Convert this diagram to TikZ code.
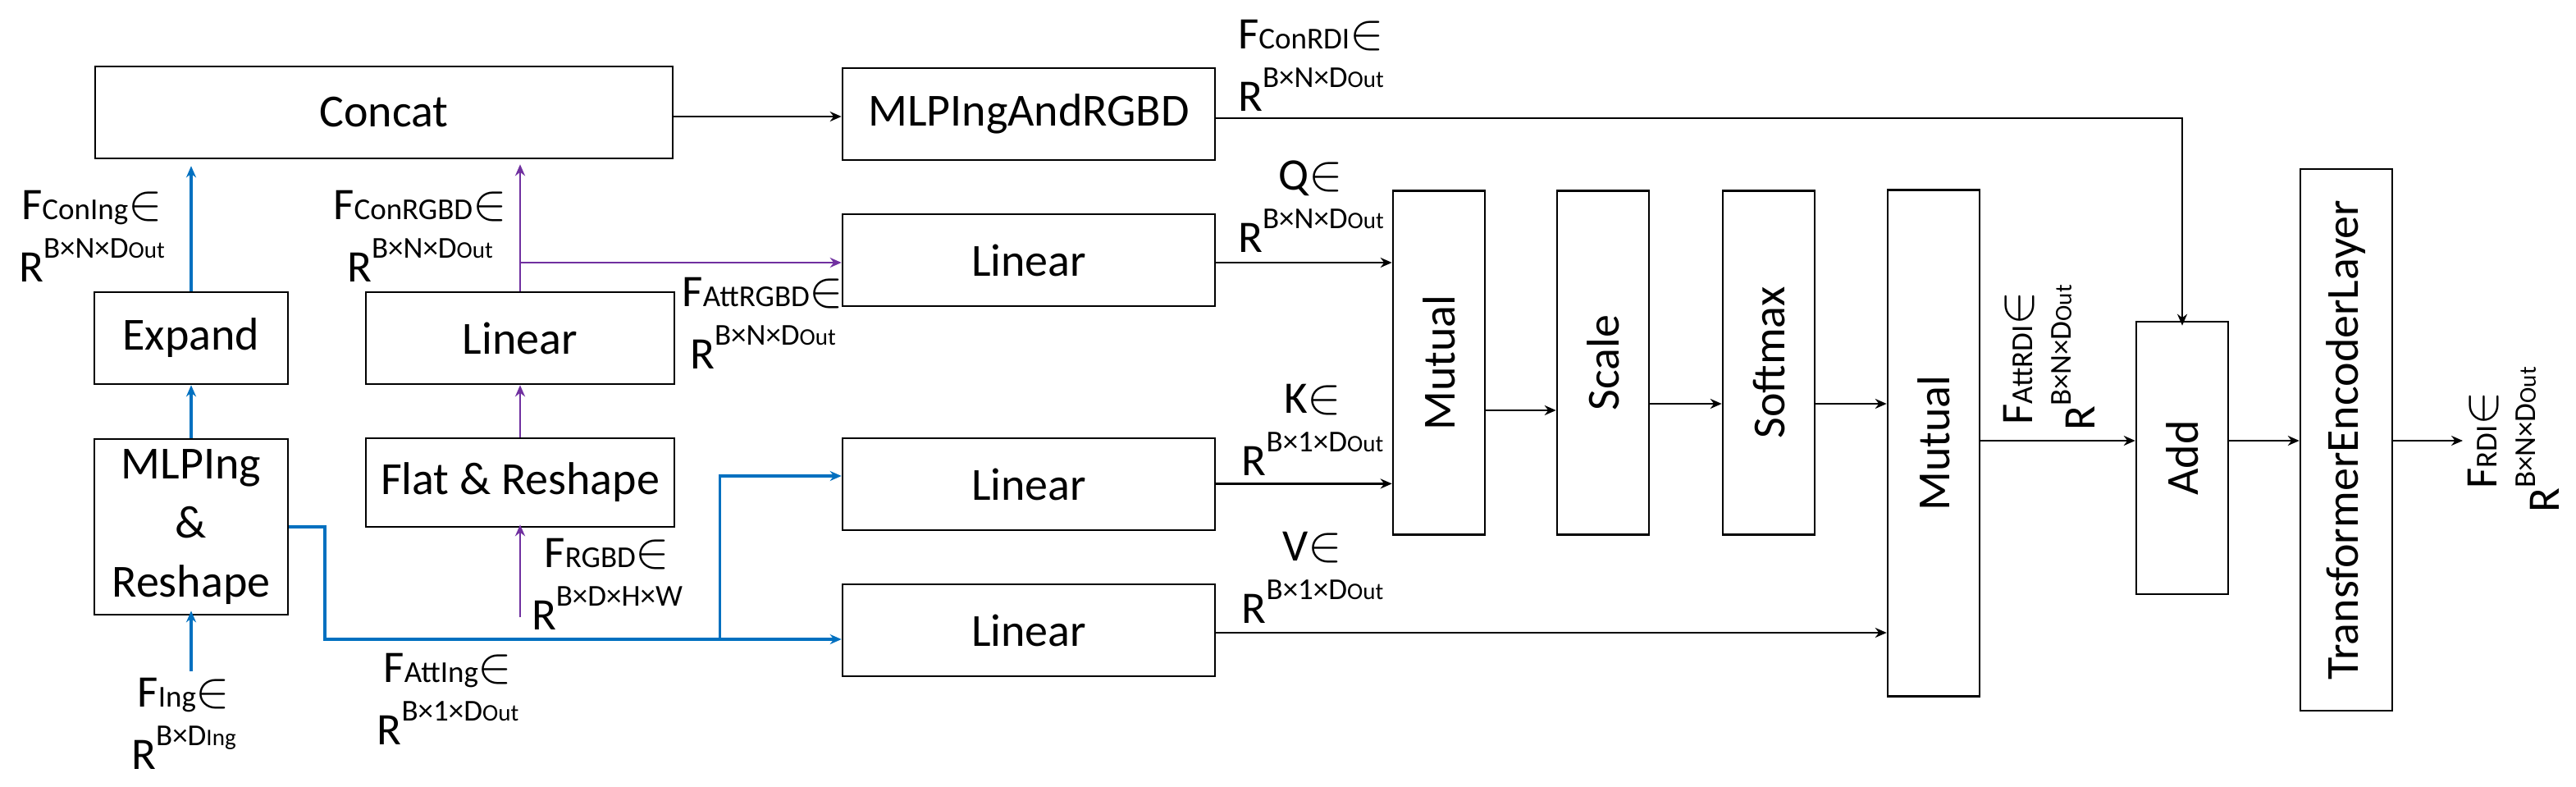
\documentclass[tikz,border=0pt]{standalone}
\usepackage{fontspec}
\setmainfont{Carlito}
\usetikzlibrary{arrows.meta,calc}
\definecolor{myblue}{RGB}{0,112,192}
\definecolor{mypurple}{RGB}{112,48,160}
\newcommand\smt[1]{{\fontsize{18.5}{18.5}\selectfont #1}}
\newcommand\tnt[1]{{\fontsize{14.5}{14.5}\selectfont #1}}
\newcommand\upt[1]{\raisebox{1.1ex}{\smt{#1}}}
\newcommand\inn{\scalebox{1.25}{\ensuremath{\in}}}
\begin{document}
\begin{tikzpicture}[x=1pt,y=-1pt,
  box/.style={draw,line width=1.3pt,inner sep=0pt,font=\fontsize{28}{30}\selectfont,align=center},
  lab/.style={font=\fontsize{27.5}{38}\selectfont,align=center,inner sep=0pt},
  arr/.style={line width=1.2pt,-{Stealth[length=7pt,width=6pt]}},
  barr/.style={arr,myblue,line width=1.6pt},
  parr/.style={arr,mypurple,line width=1.4pt},
  bl/.style={myblue,line width=1.6pt},
  pl/.style={mypurple,line width=1.4pt}]
\useasboundingbox (0,0) rectangle (1570,479);
\fill[white] (0,0) rectangle (1570,479);
% boxes
\node[box,minimum width=352pt,minimum height=56pt] (concat) at (234,68.5) {Concat};
\node[box,minimum width=118pt,minimum height=56pt] (expand) at (116.5,206) {Expand};
\node[box,minimum width=118pt,minimum height=107pt,font=\fontsize{28}{36}\selectfont] (mlp) at (116.5,321) {MLPIng\\\&\\Reshape};
\node[box,minimum width=188pt,minimum height=56pt] (plin) at (317,206) {Linear};
\node[box,minimum width=188pt,minimum height=54pt] (flat) at (317,294) {Flat \& Reshape};
\node[box,minimum width=227pt,minimum height=56pt] (mrgbd) at (627,69.5) {MLPIngAndRGBD};
\node[box,minimum width=227pt,minimum height=56pt] (lq) at (627,158.5) {Linear};
\node[box,minimum width=227pt,minimum height=56pt] (lk) at (627,295) {Linear};
\node[box,minimum width=227pt,minimum height=56pt] (lv) at (627,384) {Linear};
\node[box,minimum width=56pt,minimum height=209.5pt] (mut1) at (877,221) {\rotatebox{90}{Mutual}};
\node[box,minimum width=56pt,minimum height=209.5pt] (scale) at (977,221) {\rotatebox{90}{Scale}};
\node[box,minimum width=56pt,minimum height=209.5pt] (soft) at (1078,221) {\rotatebox{90}{Softmax}};
\node[box,minimum width=56pt,minimum height=308.5pt] (mut2) at (1178.5,270) {\rotatebox{90}{Mutual}};
\node[box,minimum width=56pt,minimum height=166pt] (add) at (1330,279) {\rotatebox{90}{Add}};
\node[box,minimum width=56pt,minimum height=330pt] (tel) at (1430,268) {\rotatebox{90}{TransformerEncoderLayer}};
% labels
\node[lab] (lconing) at (56,144) {F\smt{ConIng}\inn\\R\upt{B×N×D\tnt{Out}}};
\node[lab] (lconrgbd) at (256,144) {F\smt{ConRGBD}\inn\\R\upt{B×N×D\tnt{Out}}};
\node[lab] (lattrgbd) at (465,197) {F\smt{AttRGBD}\inn\\R\upt{B×N×D\tnt{Out}}};
\node[lab] (lrgbd) at (370,356) {F\smt{RGBD}\inn\\R\upt{B×D×H×W}};
\node[lab] (lattin) at (273,426) {F\smt{AttIng}\inn\\R\upt{B×1×D\tnt{Out}}};
\node[lab] (ling) at (112,441) {F\smt{Ing}\inn\\R\upt{B×D\tnt{Ing}}};
\node[lab] (lconrdi) at (799,40) {F\smt{ConRDI}\inn\\R\upt{B×N×D\tnt{Out}}};
\node[lab] (lq1) at (799,126) {Q\inn\\R\upt{B×N×D\tnt{Out}}};
\node[lab] (lk1) at (800,262) {K\inn\\R\upt{B×1×D\tnt{Out}}};
\node[lab] (lv1) at (800,352) {V\inn\\R\upt{B×1×D\tnt{Out}}};
\node[lab,rotate=90] (lattrdi) at (1249,218) {F\smt{AttRDI}\inn\\R\upt{B×N×D\tnt{Out}}};
\node[lab,rotate=90] (lrdi) at (1532,268) {F\smt{RDI}\inn\\R\upt{B×N×D\tnt{Out}}};
% coordinates
\coordinate (fing) at (116.5,409);
\coordinate (frgbd) at (317,376);
\coordinate (jb) at (438.7,389.5);
\coordinate (bend) at (198,321);
\coordinate (out) at (1501,268.5);
% blue connectors
\draw[barr] (fing) -- ([yshift=3pt]mlp.south);
\draw[barr] (mlp.north) -- (expand.south);
\draw[barr,shorten >=4pt] (expand.north) -- (concat.south -| expand.north);
\draw[bl] (mlp.east |- bend) -- (bend) |- (jb);
\draw[barr] (jb) -- (lv.west |- jb);
\draw[barr] (jb) |- (lk.west |- 0,290);
% purple connectors
\draw[parr] (frgbd) -- ([yshift=2pt]flat.south);
\draw[parr] (flat.north) -- (plin.south);
\draw[parr,shorten >=3pt] (plin.north) -- (concat.south -| plin.north);
\draw[parr] (plin.north |- 0,160) -- (lq.west |- 0,160);
% black connectors
\draw[arr] (concat.east |- 0,71) -- (mrgbd.west |- 0,71);
\draw[arr] (mrgbd.east |- 0,72) -| ([yshift=-3pt]add.north);
\draw[arr] (lq.east |- 0,160) -- (mut1.west |- 0,160);
\draw[arr] (lk.east |- 0,294.7) -- (mut1.west |- 0,294.7);
\draw[arr] (lv.east |- 0,385.5) -- (mut2.west |- 0,385.5);
\draw[arr] (mut1.east |- 0,250) -- (scale.west |- 0,250);
\draw[arr] (scale.east |- 0,246) -- (soft.west |- 0,246);
\draw[arr] (soft.east |- 0,246) -- (mut2.west |- 0,246);
\draw[arr] (mut2.east |- 0,268.5) -- (add.west |- 0,268.5);
\draw[arr] (add.east |- 0,268.5) -- (tel.west |- 0,268.5);
\draw[arr] (tel.east |- 0,268.5) -- (out);
\end{tikzpicture}
\end{document}
